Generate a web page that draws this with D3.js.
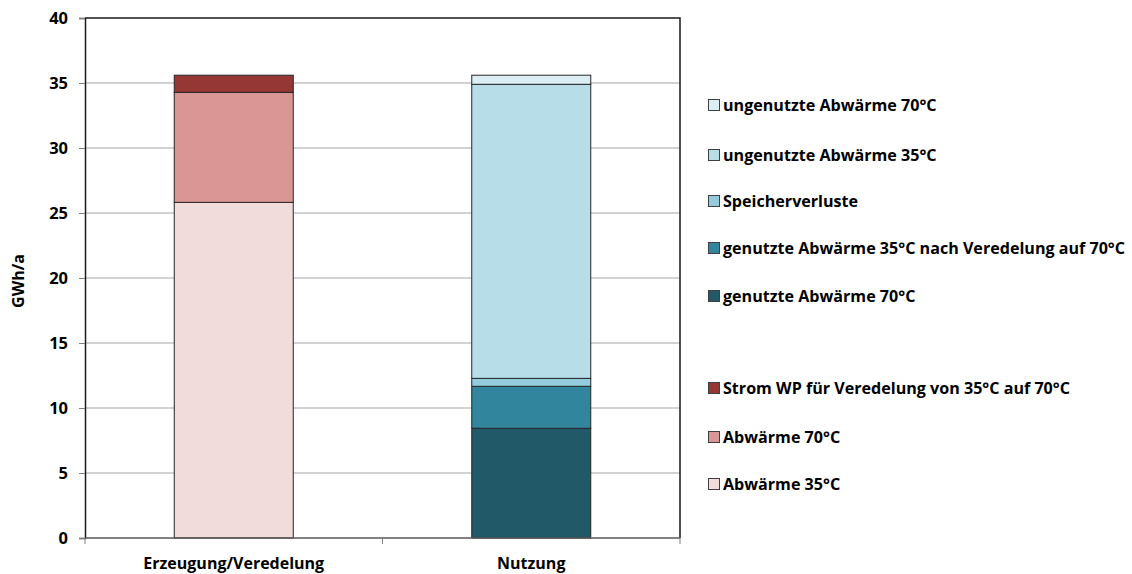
<!DOCTYPE html>
<html>
<head>
<meta charset="utf-8">
<script src="https://cdn.jsdelivr.net/npm/d3@7"></script>
<style>
  html, body { margin: 0; padding: 0; background: #fff; }
  svg { display: block; font-family: "Open Sans", Lato, sans-serif; font-weight: bold; }
</style>
</head>
<body>
<svg id="chart" width="1132" height="574"></svg>
<script>
// Categories on the x axis
const categories = ["Erzeugung/Veredelung", "Nutzung"];

// Stacked segments, bottom to top, in GWh/a
const erzeugungNames = ["Abwärme 35°C", "Abwärme 70°C", "Strom WP für Veredelung von 35°C auf 70°C"];
const erzeugungValues = [25.82, 8.46, 1.32];
const erzeugungColors = ["#F2DCDB", "#D99694", "#953735"];

const nutzungNames = ["genutzte Abwärme 70°C", "genutzte Abwärme 35°C nach Veredelung auf 70°C", "Speicherverluste", "ungenutzte Abwärme 35°C", "ungenutzte Abwärme 70°C"];
const nutzungValues = [8.44, 3.23, 0.61, 22.62, 0.70];
const nutzungColors = ["#215968", "#31859C", "#93CDDD", "#B7DEE8", "#DBEEF4"];

const yTicks = [0, 5, 10, 15, 20, 25, 30, 35, 40];
const yLabel = "GWh/a";

const svg = d3.select("#chart");
const plot = { left: 85, right: 680, top: 18, bottom: 538 };

const x = d3.scaleBand().domain(categories).range([plot.left, plot.right]).paddingInner(0).paddingOuter(0);
const barWidth = 119;
const y = d3.scaleLinear().domain([0, 40]).range([plot.bottom, plot.top]);

// gridlines
svg.append("g")
  .selectAll("line")
  .data(yTicks.filter(d => d > 0 && d < 40))
  .join("line")
  .attr("x1", plot.left).attr("x2", plot.right)
  .attr("y1", d => y(d)).attr("y2", d => y(d))
  .attr("stroke", "#A6A6A6").attr("stroke-width", 1.2);

// stacked bars
function stackSegments(cat, names, values, colors) {
  let base = 0;
  return values.map((v, i) => {
    const seg = { cat, name: names[i], y0: base, y1: base + v, color: colors[i] };
    base += v;
    return seg;
  });
}
const segments = [
  ...stackSegments(categories[0], erzeugungNames, erzeugungValues, erzeugungColors),
  ...stackSegments(categories[1], nutzungNames, nutzungValues, nutzungColors)
];

svg.append("g")
  .selectAll("rect")
  .data(segments)
  .join("rect")
  .attr("x", d => x(d.cat) + (x.bandwidth() - barWidth) / 2)
  .attr("width", barWidth)
  .attr("y", d => y(d.y1))
  .attr("height", d => y(d.y0) - y(d.y1))
  .attr("fill", d => d.color)
  .attr("stroke", "#262626")
  .attr("stroke-width", 1);

// plot frame (top, right)
svg.append("path")
  .attr("d", `M${plot.left},${plot.top}H${plot.right}V${plot.bottom}`)
  .attr("fill", "none").attr("stroke", "#1a1a1a").attr("stroke-width", 1.5);

// y axis
const yAxis = d3.axisLeft(y).tickValues(yTicks).tickSize(6).tickPadding(11).tickFormat(d3.format("d"));
const gy = svg.append("g").attr("transform", `translate(${plot.left},0)`).call(yAxis);
gy.select(".domain").attr("stroke", "#1a1a1a").attr("stroke-width", 1.5);
gy.selectAll(".tick line").attr("stroke", "#7f7f7f");
gy.selectAll(".tick text")
  .attr("font-family", "'Open Sans', sans-serif").attr("font-weight", "bold")
  .attr("font-size", 16.5).attr("fill", "#000");

// x axis with ticks on category boundaries
const gx = svg.append("g").attr("transform", `translate(0,${plot.bottom})`);
gx.append("line").attr("x1", plot.left).attr("x2", plot.right)
  .attr("stroke", "#595959").attr("stroke-width", 1.5);
const boundaries = [plot.left, ...categories.map(c => x(c) + x.bandwidth())];
gx.selectAll("line.tk").data(boundaries).join("line").attr("class", "tk")
  .attr("x1", d => d).attr("x2", d => d).attr("y1", 0).attr("y2", 6)
  .attr("stroke", "#7f7f7f");
gx.selectAll("text").data(categories).join("text")
  .attr("x", d => x(d) + x.bandwidth() / 2)
  .attr("y", 31)
  .attr("text-anchor", "middle")
  .attr("font-size", 16).attr("fill", "#000")
  .text(d => d);

// y axis title
svg.append("text")
  .attr("transform", `translate(24,${(plot.top + plot.bottom) / 2 + 3}) rotate(-90)`)
  .attr("text-anchor", "middle")
  .attr("font-size", 16).attr("fill", "#000")
  .text(yLabel);

// legend: blue group top, red group below
const legendItems = [
  ...nutzungNames.map((n, i) => ({ name: n, color: nutzungColors[i] })).reverse(),
  ...erzeugungNames.map((n, i) => ({ name: n, color: erzeugungColors[i] })).reverse()
];
const legendY = [105, 155, 201, 248, 296, 388, 437, 484];
const lg = svg.append("g").selectAll("g").data(legendItems).join("g")
  .attr("transform", (d, i) => `translate(708,${legendY[i]})`);
lg.append("rect").attr("x", 0.5).attr("y", -5.5).attr("width", 11).attr("height", 11)
  .attr("fill", d => d.color).attr("stroke", "#404040").attr("stroke-width", 1);
lg.append("text").attr("x", 15).attr("y", 0).attr("dy", "0.35em")
  .attr("font-size", 16.1).attr("fill", "#000")
  .text(d => d.name);
</script>
</body>
</html>
